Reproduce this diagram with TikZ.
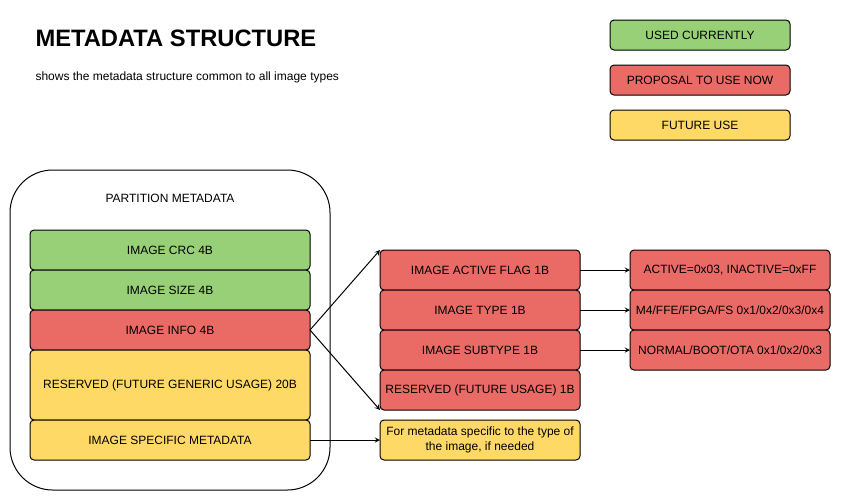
\documentclass[tikz,border=0pt]{standalone}
\usepackage{fontspec}
\setmainfont{Liberation Sans}
\usetikzlibrary{positioning, arrows}
\definecolor{usedgreen}{HTML}{97D077}
\definecolor{proposalred}{HTML}{EA6B66}
\definecolor{futureyellow}{HTML}{FFD966}
\tikzstyle{arrow} = [->,>=stealth]
\tikzstyle{field} = [draw, rounded corners=3pt, outer sep=0pt, minimum height=30pt, font=\fontsize{9}{11}\selectfont, align=center]
\tikzstyle{wide} = [field, minimum width=210pt]
\tikzstyle{narrow} = [field, minimum width=150pt]
\tikzstyle{legend} = [field, minimum width=135pt, minimum height=22.5pt]

\begin{document}
\begin{tikzpicture}[x=0.75pt, y=-0.75pt, line width=0.75pt]
                \useasboundingbox (0,0) rectangle (841,501);
                \node (title) [anchor=base west, inner sep=0pt, font=\bfseries\fontsize{17.8}{22}\selectfont] at (35,46) {METADATA STRUCTURE};
                \node (subtitle) [anchor=base west, inner sep=0pt, font=\fontsize{9}{11}\selectfont] at (35,80) {shows the metadata structure common to all image types};

                % legend
                \node (used) [legend, fill=usedgreen] at (700,35) {USED CURRENTLY};
                \node (proposal) [legend, fill=proposalred] at (700,80) {PROPOSAL TO USE NOW};
                \node (future) [legend, fill=futureyellow] at (700,125) {FUTURE USE};

                % partition metadata
                \node (partition) [draw, rounded corners=32pt, minimum width=240pt, minimum height=240pt] at (170,330) {};
                \node (partlabel) [font=\fontsize{9}{11}\selectfont] at (170,198) {PARTITION METADATA};
                \node (crc) [wide, fill=usedgreen] at (170,250) {IMAGE CRC 4B};
                \node (size) [wide, fill=usedgreen, below=0pt of crc] {IMAGE SIZE 4B};
                \node (info) [wide, fill=proposalred, below=0pt of size] {IMAGE INFO 4B};
                \node (reserved) [wide, fill=futureyellow, minimum height=52.5pt, below=0pt of info] {RESERVED (FUTURE GENERIC USAGE) 20B};
                \node (specific) [wide, fill=futureyellow, below=0pt of reserved] {IMAGE SPECIFIC METADATA};

                % image info fields
                \node (flag) [narrow, fill=proposalred] at (480,270) {IMAGE ACTIVE FLAG 1B};
                \node (type) [narrow, fill=proposalred, below=0pt of flag] {IMAGE TYPE 1B};
                \node (subtype) [narrow, fill=proposalred, below=0pt of type] {IMAGE SUBTYPE 1B};
                \node (resfield) [narrow, fill=proposalred, below=0pt of subtype] {RESERVED (FUTURE USAGE) 1B};
                \node (specnote) [narrow, fill=futureyellow] at (480,440) {For metadata specific to the type of\\the image, if needed};

                % values
                \node (flagval) [narrow, fill=proposalred] at (730,270) {ACTIVE=0x03, INACTIVE=0xFF};
                \node (typeval) [narrow, fill=proposalred, below=0pt of flagval] {M4/FFE/FPGA/FS 0x1/0x2/0x3/0x4};
                \node (subtypeval) [narrow, fill=proposalred, below=0pt of typeval] {NORMAL/BOOT/OTA 0x1/0x2/0x3};

                \draw [arrow] (info.east) -- (flag.north west);
                \draw [arrow] (info.east) -- (resfield.south west);
                \draw [arrow] (specific) -- (specnote);
                \draw [arrow] (flag) -- (flagval);
                \draw [arrow] (type) -- (typeval);
                \draw [arrow] (subtype) -- (subtypeval);
            \end{tikzpicture}
\end{document}
